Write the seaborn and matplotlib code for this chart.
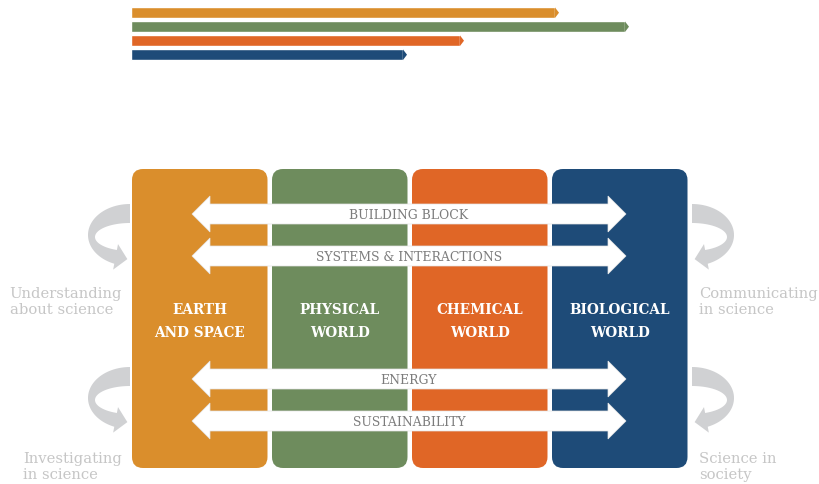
import numpy as np
import matplotlib
matplotlib.use("Agg")
import matplotlib.pyplot as plt
from matplotlib.patches import FancyBboxPatch, Polygon
import seaborn as sns

# top bars (lengths read in pixels from the picture)
bar_names = ["Earth and space", "Physical world", "Chemical world", "Biological world"]
bar_lengths = [424, 494, 329, 272]

# colour per strand
strand_colors = ["#DA8E2C", "#6E8C5D", "#E06626", "#1E4B78"]

# boxes
box_labels = ["EARTH\nAND SPACE", "PHYSICAL\nWORLD", "CHEMICAL\nWORLD", "BIOLOGICAL\nWORLD"]

# cross-cutting themes (double arrows)
theme_labels = ["BUILDING BLOCK", "SYSTEMS & INTERACTIONS", "ENERGY", "SUSTAINABILITY"]

# side labels
left_labels = ["Understanding\nabout science", "Investigating\nin science"]
right_labels = ["Communicating\nin science", "Science in\nsociety"]

sns.set_theme(style="white")
plt.rcParams["font.family"] = ["DejaVu Serif", "DejaVu Sans"]

W, H = 819, 485
fig = plt.figure(figsize=(W / 100, H / 100), dpi=100)
ax = fig.add_axes([0, 0, 1, 1])
ax.set_xlim(0, W)
ax.set_ylim(H, 0)
ax.axis("off")

# ---- top bar chart ----
bax = fig.add_axes([131 / W, 1 - 62.7 / H, 688 / W, 56 / H])
sns.barplot(x=bar_lengths, y=bar_names, hue=bar_names, palette=strand_colors,
            orient="h", width=0.75, legend=False, ax=bax, saturation=1)
bax.set_xlim(0, 688)
bax.set_ylim(3.5, -0.5)
bax.axis("off")
for p, c in zip(bax.patches, strand_colors):
    x1 = p.get_x() + p.get_width()
    y0, h = p.get_y(), p.get_height()
    bax.add_patch(Polygon([(x1, y0), (x1 + 4, y0 + h / 2), (x1, y0 + h)],
                          closed=True, fc=c, ec="none"))

# ---- layout ----
box_left, box_w, box_gap = 132, 135.5, 4.5
box_top, box_bot = 170, 469
arrow_x0, arrow_x1 = 192, 626
arrow_y = [215, 257, 380, 422]
curl_color = "#D0D1D3"
side_color = "#C6C6C6"


def curl(top, mirror=False):
    # tapered C-shaped arrow, drawn for the left side and mirrored for the right
    oc = np.array([130.0, top + 31])
    ic = np.array([130.0, top + 33])
    orx, ory, irx, iry = 42, 31, 35, 14
    th = np.deg2rad(np.linspace(270, 112, 50))
    outer = np.c_[oc[0] + orx * np.cos(th), oc[1] + ory * np.sin(th)]
    inner = np.c_[ic[0] + irx * np.cos(th), ic[1] + iry * np.sin(th)]
    o, i = outer[-1], inner[-1]
    v = (o - i) / np.linalg.norm(o - i)
    t = np.array([-v[1], v[0]])
    if t[0] < 0:
        t = -t
    m = (o + i) / 2
    head = [o + v * 6, m + t * 12, i - v * 6]
    pts = np.vstack([outer, head, inner[::-1]])
    if mirror:
        pts[:, 0] = 822 - pts[:, 0]
    ax.add_patch(Polygon(pts, closed=True, fc=curl_color, ec="none", zorder=1))


for top in (205, 368):
    curl(top)
    curl(top, mirror=True)

# boxes
for i, (lab, c) in enumerate(zip(box_labels, strand_colors)):
    x0 = box_left + i * (box_w + box_gap)
    ax.add_patch(FancyBboxPatch((x0, box_top), box_w, box_bot - box_top,
                                boxstyle="round,pad=0,rounding_size=11",
                                fc=c, ec="none", zorder=2))
    ax.text(x0 + box_w / 2, 321.5, lab, ha="center", va="center", color="white",
            fontsize=9.8, fontweight="bold", linespacing=1.85, zorder=5)

# double arrows
sh, hh, hlen = 10, 18, 18
for yc, lab in zip(arrow_y, theme_labels):
    pts = [(arrow_x0, yc), (arrow_x0 + hlen, yc - hh), (arrow_x0 + hlen, yc - sh),
           (arrow_x1 - hlen, yc - sh), (arrow_x1 - hlen, yc - hh), (arrow_x1, yc),
           (arrow_x1 - hlen, yc + hh), (arrow_x1 - hlen, yc + sh),
           (arrow_x0 + hlen, yc + sh), (arrow_x0 + hlen, yc + hh)]
    ax.add_patch(Polygon(pts, closed=True, fc="white", ec="#E4E4E4", lw=0.5,
                         zorder=3))
    ax.text((arrow_x0 + arrow_x1) / 2, yc + 0.5, lab, ha="center", va="center",
            color="#7C7C7C", fontsize=8.9, zorder=5)

# side labels
for lab, y in zip(left_labels, [302, 467]):
    ax.text(122, y, lab, ha="right", va="center", multialignment="left",
            color=side_color, fontsize=10.6, linespacing=1.18)
for lab, y in zip(right_labels, [302, 467]):
    ax.text(699, y, lab, ha="left", va="center", multialignment="left",
            color=side_color, fontsize=10.6, linespacing=1.18)

fig.savefig("out.png", dpi=100, facecolor="white")
